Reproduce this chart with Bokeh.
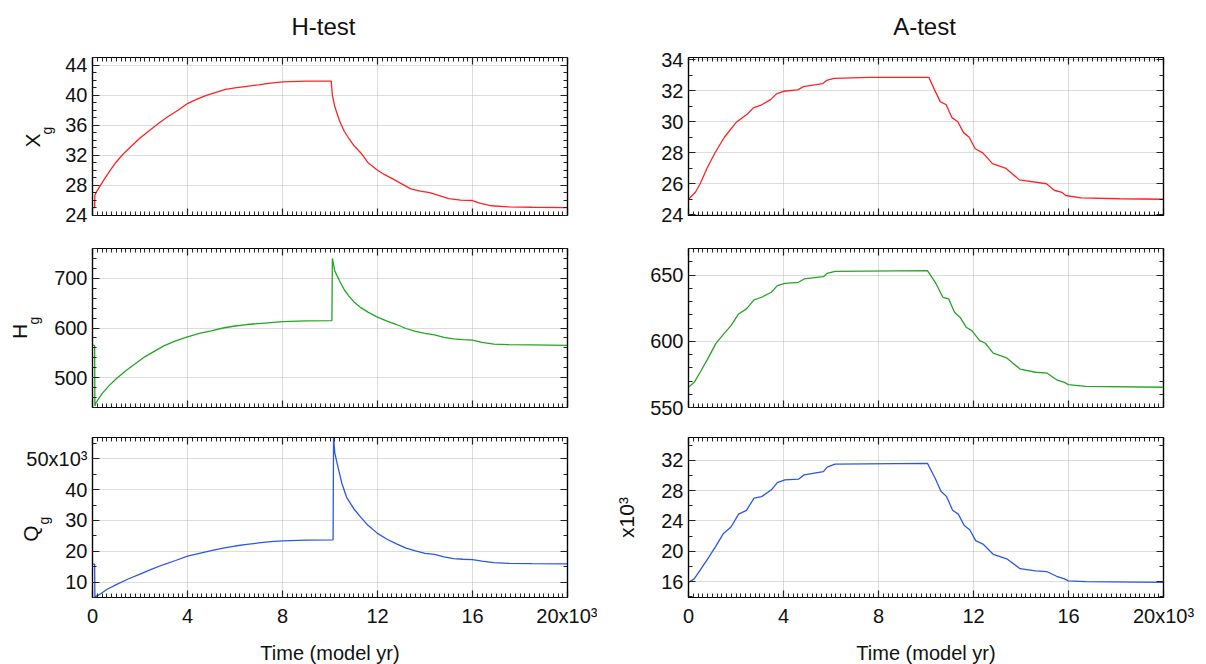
import numpy as np
from bokeh.plotting import figure
from bokeh.models import Range1d, FixedTicker, LinearAxis, Label, Grid, CustomLabelingPolicy
from bokeh.layouts import column, row
from bokeh.embed import file_html
from bokeh.resources import INLINE

FONT = "Liberation Sans"

# ---------------- data ----------------
# H-test
h_xg_t = [0, 90, 100, 150, 300, 500, 750, 1000, 1300, 1600, 2000, 2400, 2800, 3200, 3600, 4000, 4400, 4800,
          5200, 5600, 6000, 6500, 7000, 7400, 8000, 9000, 10050, 10100, 10200, 10400, 10600, 10800,
          11000, 11300, 11600, 12000, 12300, 12600, 13000, 13400, 13800, 14200, 14600, 15000, 15500,
          16000, 16300, 16800, 17500, 18500, 20000]
h_xg_v = [25.0, 25.0, 26.7, 27.0, 27.8, 28.8, 30.0, 31.1, 32.2, 33.1, 34.3, 35.3, 36.3, 37.2, 38.0, 38.9, 39.5,
          40.0, 40.4, 40.8, 41.0, 41.2, 41.4, 41.6, 41.8, 41.9, 41.9, 40.0, 38.5, 36.6, 35.2, 34.2,
          33.3, 32.3, 31.0, 30.0, 29.4, 28.9, 28.2, 27.5, 27.2, 27.0, 26.6, 26.2, 26.0,
          25.95, 25.6, 25.25, 25.1, 25.05, 25.0]

h_hg_t = [0, 90, 100, 150, 400, 700, 1000, 1400, 1800, 2200, 2600, 3000, 3500, 4000, 4500, 5000, 5500, 6000,
          6500, 7000, 7500, 8000, 9000, 10080, 10100, 10200, 10400, 10600, 10800, 11000, 11300, 11600,
          12000, 12400, 12800, 13200, 13600, 14000, 14400, 14800, 15200, 15600, 16000, 16400, 16900,
          17500, 18500, 20000]
h_hg_v = [565, 565, 443, 450, 468, 484, 498, 514, 528, 542, 553, 564, 574, 582, 589, 594, 600, 604,
          607, 609, 611, 613, 614.5, 615, 740, 715, 695, 677, 664, 653, 641, 632,
          622, 614, 607, 599, 593, 589, 586, 581, 578, 576.5, 575.5, 571, 567.5,
          566.5, 566, 565]

h_qg_t = [0, 90, 100, 300, 600, 1000, 1500, 2000, 2500, 3000, 3500, 4000, 4500, 5000, 5500, 6000, 6500, 7000,
          7500, 8000, 9000, 10130, 10150, 10200, 10300, 10500, 10700, 11000, 11300, 11600, 12000, 12400,
          12800, 13200, 13600, 14000, 14400, 14800, 15200, 15600, 16000, 16400, 16900, 17500, 18500, 20000]
h_qg_v = [15800, 15800, 5200, 6000, 7600, 9200, 11000, 12600, 14200, 15700, 17000, 18400, 19300, 20200, 21000,
          21700, 22200, 22700, 23100, 23400, 23600, 23700, 56800, 52000, 48500, 42000, 37500, 33800,
          31000, 28400, 25800, 23900, 22400, 21000, 20100, 19300, 19000, 18200, 17600, 17400, 17300,
          16800, 16300, 16100, 16000, 15900]

# A-test
a_xg_t = [0, 290, 490, 780, 1100, 1510, 2000, 2480, 2730, 3050, 3460, 3700, 4000, 4600, 4840, 5650,
          5810, 6140, 7600, 10120, 10360, 10600, 10850, 11090, 11340, 11580, 11820, 12070, 12390,
          12800, 13370, 13930, 15070, 15400, 15720, 15880, 16530, 18160, 20000]
a_xg_v = [25.0, 25.45, 26.0, 27.0, 27.95, 29.0, 29.95, 30.5, 30.9, 31.07, 31.43, 31.8, 31.97, 32.06,
          32.27, 32.46, 32.67, 32.8, 32.87, 32.87, 32.06, 31.3, 31.1, 30.27, 30.0, 29.3, 29.0, 28.26,
          27.99, 27.3, 26.99, 26.25, 26.0, 25.58, 25.45, 25.24, 25.09, 25.03, 25.0]

a_hg_t = [0, 240, 490, 810, 1140, 1460, 1790, 2110, 2440, 2760, 3080, 3490, 3740, 4060, 4630, 4870,
          5680, 5840, 6170, 10060, 10390, 10710, 10960, 11200, 11440, 11690, 11930, 12260, 12500,
          12830, 13400, 13960, 14610, 15100, 15500, 15830, 15990, 16720, 20000]
a_hg_v = [565.3, 569, 576.6, 586.7, 598, 605, 611.8, 620.6, 624.4, 631.2, 633.2, 637, 642, 643.7,
          644.5, 647, 648.7, 651.3, 652.8, 653.3, 644.5, 633.2, 631.9, 621.9, 618, 610.6, 608, 600.5,
          598.5, 591, 587.4, 579, 576.6, 575.9, 570.9, 569, 567.3, 566, 565.3]

a_qg_t = [0, 240, 490, 810, 1140, 1460, 1790, 2110, 2440, 2760, 3080, 3490, 3740, 4060, 4630, 4870,
          5680, 5840, 6170, 10060, 10390, 10630, 10870, 11120, 11360, 11610, 11850, 12090, 12420,
          12830, 13400, 13960, 14610, 15100, 15500, 15830, 15990, 16720, 20000]
a_qg_v = [15900, 16350, 17500, 19000, 20600, 22300, 23200, 24900, 25400, 27000, 27200, 28100, 29050,
          29400, 29500, 30070, 30500, 31100, 31500, 31600, 29600, 27900, 27200, 25400, 24900, 23400,
          22800, 21400, 20900, 19600, 19000, 17700, 17400, 17300, 16700, 16350, 16100, 16000, 15900]

# ticks
x_ticks = [0, 4000, 8000, 12000, 16000, 20000]
x_tick_labels = ["0", "4", "8", "12", "16", "20x10³"]

h_xg_ticks = [24, 28, 32, 36, 40, 44]
h_hg_ticks = [500, 600, 700]
h_qg_ticks = [10000, 20000, 30000, 40000, 50000]
h_qg_labels = ["10", "20", "30", "40", "50x10³"]
a_xg_ticks = [24, 26, 28, 30, 32, 34]
a_hg_ticks = [550, 600, 650]
a_qg_ticks = [16000, 20000, 24000, 28000, 32000]
a_qg_labels = ["16", "20", "24", "28", "32"]

RED = "#ff2222"
GREEN = "#25a525"
BLUE = "#2b57e6"

FRAME_W = 475
X_MINOR = list(range(0, 20001, 200))


def style_axis(ax, show_labels):
    ax.axis_line_color = "black"
    ax.axis_line_width = 1.2
    ax.major_tick_in = 7
    ax.major_tick_out = 0
    ax.minor_tick_in = 4
    ax.minor_tick_out = 0
    ax.major_tick_line_color = "#222222"
    ax.minor_tick_line_color = "#222222"
    ax.major_tick_line_width = 1.2
    ax.minor_tick_line_width = 1
    ax.major_label_text_font = FONT
    ax.major_label_text_color = "#111111"
    if show_labels:
        ax.major_label_text_font_size = "20px"
        ax.major_label_standoff = 5
    else:
        ax.major_label_text_font_size = "0px"
        ax.major_label_standoff = 0
        ax.major_label_policy = CustomLabelingPolicy(code="return false")
    ax.axis_label_text_font = FONT
    ax.axis_label_text_font_style = "normal"
    ax.axis_label_text_font_size = "21px"
    ax.axis_label_text_color = "#111111"


def make_panel(yr, yticks, yminor, ylabels, t, v, color, top, bottom, left, right, frame_h,
               xlabels=False, ylabel=None):
    p = figure(frame_width=FRAME_W, frame_height=frame_h,
               x_range=Range1d(0, 20000), y_range=Range1d(*yr),
               x_axis_type=None, y_axis_type=None,
               min_border_left=left, min_border_right=right,
               min_border_top=top, min_border_bottom=bottom,
               output_backend="svg", toolbar_location=None,
               background_fill_color="white", border_fill_color="white")
    p.outline_line_color = "black"
    p.outline_line_width = 1.2
    xt = FixedTicker(ticks=x_ticks, minor_ticks=X_MINOR)
    yt = FixedTicker(ticks=yticks, minor_ticks=yminor)
    for loc in ["below", "above"]:
        ax = LinearAxis(ticker=xt)
        style_axis(ax, loc == "below" and xlabels)
        if loc == "below" and xlabels:
            ax.major_label_overrides = {k: s for k, s in zip(x_ticks, x_tick_labels)}
            ax.major_label_standoff = 7
            ax.axis_label = "Time (model yr)"
            ax.axis_label_text_font_size = "20px"
            ax.axis_label_standoff = 12
        p.add_layout(ax, loc)
    for loc in ["left", "right"]:
        ax = LinearAxis(ticker=yt)
        style_axis(ax, loc == "left")
        if loc == "left":
            ax.major_label_overrides = {k: s for k, s in zip(yticks, ylabels)}
            if ylabel:
                ax.axis_label = ylabel
                ax.axis_label_standoff = 20
        p.add_layout(ax, loc)
    for dim, tk in [(0, xt), (1, yt)]:
        g = Grid(dimension=dim, ticker=tk, grid_line_color="#b8b8b8",
                 grid_line_dash="1 1", grid_line_width=1)
        p.add_layout(g)
    p.line(t, v, line_color=color, line_width=1.3)
    return p


def px_to_data(yr, frame_h, dx, dy):
    # (dx, dy): pixels relative to the frame's top-left corner
    return dx / FRAME_W * 20000, yr[1] - dy / frame_h * (yr[1] - yr[0])


def sub_label(p, yr, frame_h, main, sub, px_main, px_sub, main_size, sub_size,
              main_side="left", sub_side="left"):
    for txt, (dx, dy), size, side in [(main, px_main, main_size, main_side),
                                      (sub, px_sub, sub_size, sub_side)]:
        x, y = px_to_data(yr, frame_h, dx, dy)
        p.add_layout(Label(x=x, y=y, text=txt, angle=np.pi / 2, text_align="center",
                           text_baseline="middle", text_font=FONT, text_font_size=size,
                           text_color="#111111"), side)


def head_label(p, yr, frame_h, text, dx, dy):
    x, y = px_to_data(yr, frame_h, dx, dy)
    p.add_layout(Label(x=x, y=y, text=text, text_align="center", text_baseline="middle",
                       text_font=FONT, text_font_size="24px", text_color="#111111"), "above")


# left column
yr1 = (23.95, 45.05)
p1 = make_panel(yr1, h_xg_ticks, list(range(24, 46)), [str(x) for x in h_xg_ticks],
                h_xg_t, h_xg_v, RED, top=57, bottom=15, left=92, right=30, frame_h=158)
sub_label(p1, yr1, 158, "X", "g", (-60, 83), (-46, 73), "21px", "14px")
head_label(p1, yr1, 158, "H-test", 231, -31)

yr2 = (440, 760)
p2 = make_panel(yr2, h_hg_ticks, list(range(440, 761, 20)), [str(x) for x in h_hg_ticks],
                h_hg_t, h_hg_v, GREEN, top=18, bottom=15, left=92, right=30, frame_h=159)
sub_label(p2, yr2, 159, "H", "g", (-73, 83), (-59, 72), "21px", "14px")

yr3 = (5000, 56900)
p3 = make_panel(yr3, h_qg_ticks, list(range(5000, 57000, 5000)), h_qg_labels,
                h_qg_t, h_qg_v, BLUE, top=15, bottom=67, left=92, right=30, frame_h=160,
                xlabels=True)
sub_label(p3, yr3, 160, "Q", "g", (-62, 96), (-49, 83), "21px", "14px",
          main_side="right", sub_side="left")

# right column
ar1 = (23.95, 34.15)
q1 = make_panel(ar1, a_xg_ticks, list(range(24, 35)), [str(x) for x in a_xg_ticks],
                a_xg_t, a_xg_v, RED, top=57, bottom=15, left=91, right=40, frame_h=158)
head_label(q1, ar1, 158, "A-test", 236, -31)
q2 = make_panel((550, 670), a_hg_ticks, list(range(550, 671, 10)), [str(x) for x in a_hg_ticks],
                a_hg_t, a_hg_v, GREEN, top=18, bottom=15, left=91, right=40, frame_h=159)
q3 = make_panel((13900, 35000), a_qg_ticks, list(range(14000, 35001, 2000)), a_qg_labels,
                a_qg_t, a_qg_v, BLUE, top=15, bottom=67, left=91, right=40, frame_h=160,
                xlabels=True, ylabel="x10³")

layout = column(row(p1, q1), row(p2, q2), row(p3, q3))

open("out.html", "w").write(file_html(layout, INLINE))
